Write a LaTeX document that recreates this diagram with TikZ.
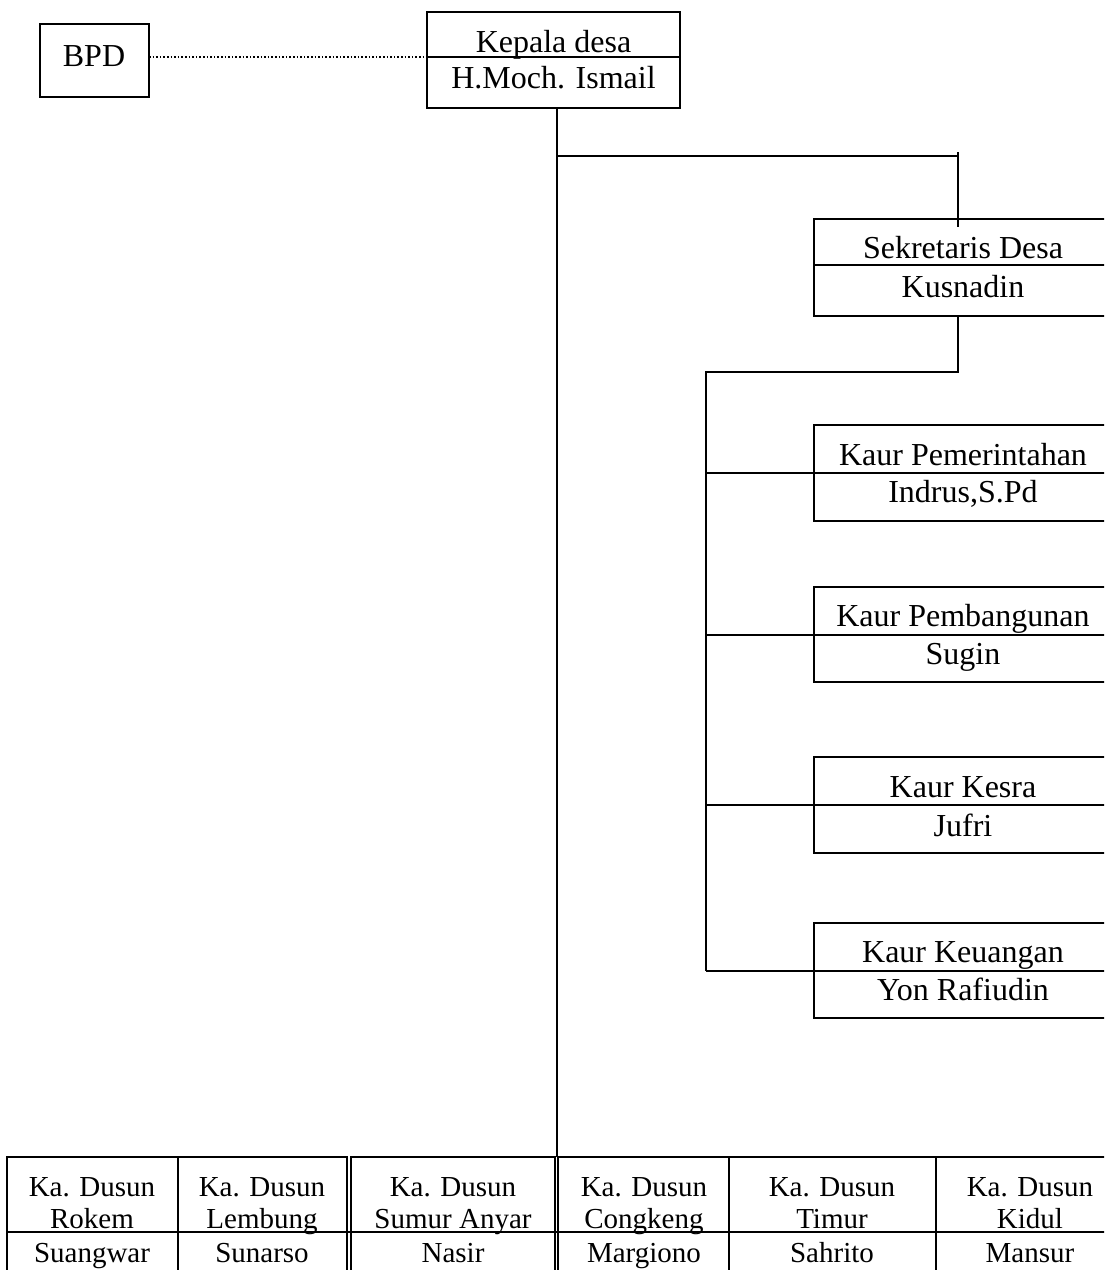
\documentclass[tikz,border=0pt]{standalone}
\usepackage{fontspec}
\setmainfont{Liberation Serif}
\begin{document}
\begin{tikzpicture}[x=0.5pt,y=-0.5pt,
  box/.style={draw, line width=1pt, rectangle, inner sep=0pt, outer sep=0pt, anchor=north west},
  rule/.style={line width=1pt},
  conn/.style={line width=1pt},
  lbl/.style={font=\fontsize{16}{19}\selectfont, anchor=base, inner sep=0pt},
  slbl/.style={font=\fontsize{14.5}{17}\selectfont, anchor=base, inner sep=0pt}]
\useasboundingbox (0,0) rectangle (1104,1270);
\fill[white] (0,0) rectangle (1104,1270);
\clip (0,0) rectangle (1104,1270);

% top level
\node[box, minimum width=109*0.5pt, minimum height=73*0.5pt] (bpd) at (40,24) {};
\node[lbl] (bpdt) at (94,66) {BPD};
\node[box, minimum width=253*0.5pt, minimum height=96*0.5pt] (kd) at (427,12) {};
\draw[rule] (427,57) -- (680,57);
\node[lbl] (kd1) at (553.5,52) {Kepala desa};
\node[lbl] (kd2) at (553.5,88) {H.Moch. Ismail};
\draw[line width=0.8pt, densely dotted] (bpd.east |- 0,57) -- (kd.west |- 0,57);

% secretary
\node[box, minimum width=298*0.5pt, minimum height=97*0.5pt] (sek) at (814,219) {};
\draw[rule] (814,265) -- (1112,265);
\node[lbl] (sek1) at (963,258) {Sekretaris Desa};
\node[lbl] (sek2) at (963,297) {Kusnadin};

% heads of affairs
\node[box, minimum width=298*0.5pt, minimum height=96*0.5pt] (kp) at (814,425) {};
\draw[rule] (kp.west) -- (kp.east);
\node[lbl] (kp1) at (963,465) {Kaur Pemerintahan};
\node[lbl] (kp2) at (963,502) {Indrus,S.Pd};

\node[box, minimum width=298*0.5pt, minimum height=95*0.5pt] (kb) at (814,587) {};
\draw[rule] (kb.west) -- (kb.east);
\node[lbl] (kb1) at (963,626) {Kaur Pembangunan};
\node[lbl] (kb2) at (963,664) {Sugin};

\node[box, minimum width=298*0.5pt, minimum height=96*0.5pt] (ks) at (814,757) {};
\draw[rule] (ks.west) -- (ks.east);
\node[lbl] (ks1) at (963,797) {Kaur Kesra};
\node[lbl] (ks2) at (963,836) {Jufri};

\node[box, minimum width=298*0.5pt, minimum height=95*0.5pt] (ku) at (814,923) {};
\draw[rule] (ku.west) -- (ku.east);
\node[lbl] (ku1) at (963,962) {Kaur Keuangan};
\node[lbl] (ku2) at (963,1000) {Yon Rafiudin};

% hamlet heads
\node[box, minimum width=171*0.5pt, minimum height=120*0.5pt] (d1) at (7,1157) {};
\node[box, minimum width=169*0.5pt, minimum height=120*0.5pt] (d2) at (178,1157) {};
\node[box, minimum width=204*0.5pt, minimum height=120*0.5pt] (d3) at (351,1157) {};
\node[box, minimum width=171*0.5pt, minimum height=120*0.5pt] (d4) at (558,1157) {};
\node[box, minimum width=207*0.5pt, minimum height=120*0.5pt] (d5) at (729,1157) {};
\node[box, minimum width=190*0.5pt, minimum height=120*0.5pt] (d6) at (936,1157) {};
\draw[rule] (7,1232) -- (1126,1232);

\node[slbl] (d1a) at (92,1196) {Ka. Dusun};
\node[slbl] (d1b) at (92,1228) {Rokem};
\node[slbl] (d1c) at (92,1262) {Suangwar};
\node[slbl] (d2a) at (262,1196) {Ka. Dusun};
\node[slbl] (d2b) at (262,1228) {Lembung};
\node[slbl] (d2c) at (262,1262) {Sunarso};
\node[slbl] (d3a) at (453,1196) {Ka. Dusun};
\node[slbl] (d3b) at (453,1228) {Sumur Anyar};
\node[slbl] (d3c) at (453,1262) {Nasir};
\node[slbl] (d4a) at (644,1196) {Ka. Dusun};
\node[slbl] (d4b) at (644,1228) {Congkeng};
\node[slbl] (d4c) at (644,1262) {Margiono};
\node[slbl] (d5a) at (832,1196) {Ka. Dusun};
\node[slbl] (d5b) at (832,1228) {Timur};
\node[slbl] (d5c) at (832,1262) {Sahrito};
\node[slbl] (d6a) at (1030,1196) {Ka. Dusun};
\node[slbl] (d6b) at (1030,1228) {Kidul};
\node[slbl] (d6c) at (1030,1262) {Mansur};

% connectors
\coordinate (j0) at (557,156);
\coordinate (j1) at (958,152);
\coordinate (j2) at (958,372);
\coordinate (j3) at (706,372);
\draw[conn] (kd.south -| j0) -- (j0 |- d4.north);
\draw[conn] (j0) -- (j0 -| j1);
\draw[conn] (j1) -- ([yshift=-4pt]j1 |- sek.north);
\draw[conn] (j2 |- sek.south) -- (j2) -- (j3) -- (j3 |- ku.west);
\draw[conn] (j3 |- kp.west) -- (kp.west);
\draw[conn] (j3 |- kb.west) -- (kb.west);
\draw[conn] (j3 |- ks.west) -- (ks.west);
\draw[conn] (j3 |- ku.west) -- (ku.west);
\end{tikzpicture}
\end{document}
